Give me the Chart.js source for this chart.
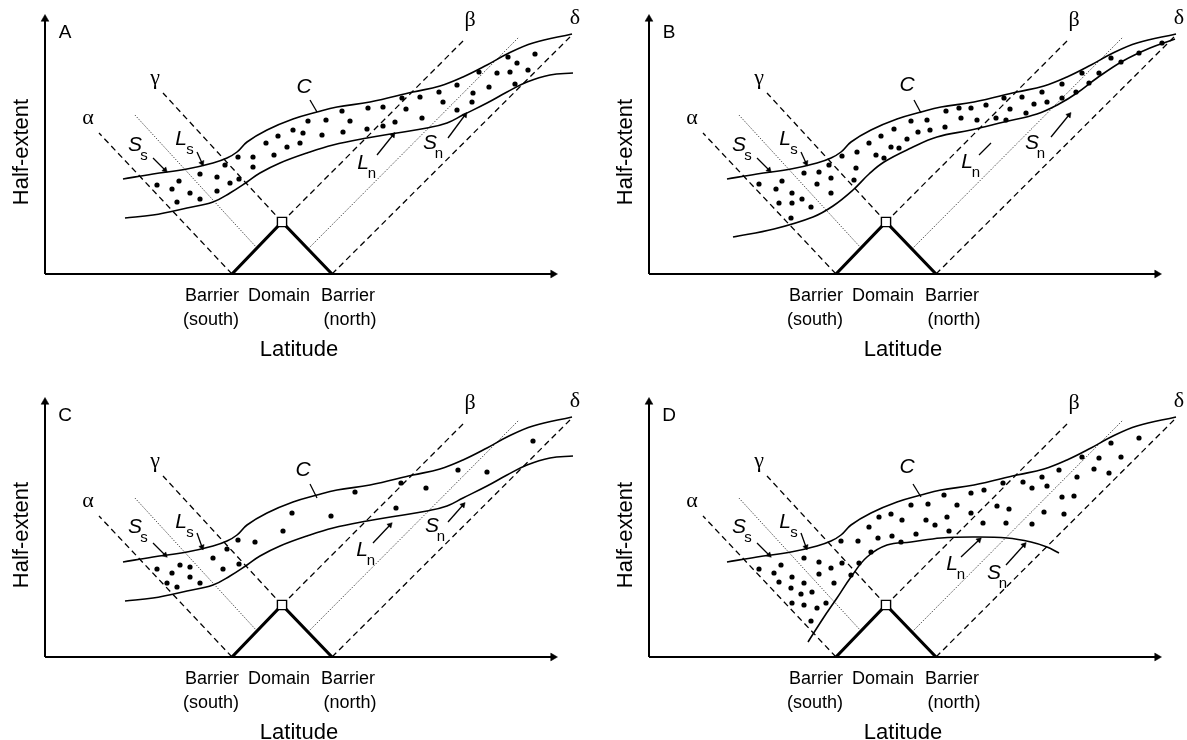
<!DOCTYPE html>
<html lang="en">
<head>
<meta charset="UTF-8">
<title>Range limit schematic</title>
<script src="https://cdn.jsdelivr.net/npm/chart.js"></script>
<style>
  body { margin: 0; background: #fff; width: 1187px; height: 740px; overflow: hidden; position: relative; }
  .panel { position: absolute; width: 590px; height: 370px; }
  canvas { display: block; }
</style>
</head>
<body>
<div class="panel" style="left:0;top:0"><canvas id="cA" width="590" height="370"></canvas></div>
<div class="panel" style="left:604px;top:0"><canvas id="cB" width="590" height="370"></canvas></div>
<div class="panel" style="left:0;top:383px"><canvas id="cC" width="590" height="370"></canvas></div>
<div class="panel" style="left:604px;top:383px"><canvas id="cD" width="590" height="370"></canvas></div>

<script>
// panel units: x = latitude, y = half-extent, origin at the axes corner
const upperEdge = [[78,95],[108,100],[142,105],[168,111],[182,116],[192,122],[202,132],[222,144],[248,155],[272,162],[292,167],[325,172],[368,182],[395,188],[418,197],[442,209],[462,220],[488,231],[527,240]];
const lowerEdgeAC = [[80,56],[108,59],[142,66],[168,72],[185,81],[202,92],[215,101],[235,111],[262,121],[288,129],[322,136],[352,141],[382,146],[402,151],[418,159],[442,171],[462,182],[482,192],[505,199],[528,201]];
const lowerEdgeB = [[84,37],[125,45],[164,57],[184,68],[204,84],[220,100],[235,112],[262,126],[288,137],[322,144],[355,152],[388,160],[410,170],[428,181],[448,196],[474,213],[501,226],[526,235]];
const lowerEdgeD = [[159,15],[175,40],[188,59],[202,80],[218,100],[238,112],[262,115],[292,119],[325,120],[358,119],[382,115],[398,110],[410,104]];

const domainV = [[187,0],[237,52],[287,0]];
const apex = [237,52];
const alphaLine = [[187,0],[54,141]];
const gammaLine = [[237,52],[118,181]];
const betaLine = [[237,52],[420,235]];
const deltaLine = [[287,0],[525,237]];
const southDotted = [[212,26],[89,160]];
const northDotted = [[263,25],[474,237]];

const dotsA = [[112,89],[127,85],[134,93],[145,81],[132,72],[155,75],[155,100],[172,97],[172,83],[180,109],[185,91],[193,117],[194,95],[208,117],[208,107],[221,131],[229,119],[233,138],[242,127],[248,144],[258,141],[255,131],[263,153],[277,139],[281,154],[297,163],[298,142],[305,153],[322,145],[323,166],[338,167],[338,148],[350,152],[357,176],[361,165],[375,177],[377,156],[394,182],[398,172],[412,189],[412,164],[427,172],[428,181],[434,202],[444,187],[452,201],[463,217],[465,202],[470,190],[472,211],[483,204],[490,220]];
const dotsB = [[110,90],[133,93],[127,85],[143,81],[130,71],[143,71],[153,75],[162,67],[142,56],[155,101],[170,102],[168,90],[182,96],[180,109],[182,81],[193,118],[205,94],[207,106],[208,122],[220,131],[227,119],[232,138],[235,116],[242,127],[245,145],[250,126],[258,135],[262,153],[269,142],[278,154],[281,144],[297,163],[296,147],[310,166],[312,156],[322,166],[328,154],[337,169],[347,156],[355,176],[357,154],[361,165],[373,177],[377,161],[385,170],[393,182],[398,172],[413,190],[413,176],[427,182],[433,201],[440,191],[450,201],[462,216],[472,212],[490,221],[513,231]];
const dotsC = [[112,88],[135,92],[127,84],[145,90],[145,80],[122,74],[132,70],[155,74],[168,99],[178,88],[182,108],[193,117],[194,93],[210,115],[238,126],[247,144],[286,141],[310,165],[351,149],[356,174],[381,169],[413,187],[442,185],[488,216]];
const dotsD = [[462,214],[490,219],[433,200],[450,199],[472,200],[410,187],[428,180],[445,188],[460,184],[393,180],[374,175],[354,174],[335,167],[322,164],[398,171],[383,169],[425,161],[413,160],[295,162],[279,153],[262,152],[308,152],[348,151],[360,148],[395,145],[415,143],[242,143],[253,137],[277,137],[298,140],[322,144],[230,140],[220,130],[286,132],[300,126],[334,134],[357,134],[383,133],[192,116],[209,116],[229,119],[243,121],[252,115],[267,123],[210,94],[222,105],[193,94],[170,95],[155,99],[182,89],[202,82],[170,83],[185,74],[110,88],[132,92],[125,84],[143,80],[130,75],[142,69],[155,74],[163,65],[152,63],[143,54],[155,52],[168,49],[177,54],[162,36]];

const panelLetters = ['A', 'B', 'C', 'D'];
const greekLabels = ['\u03B1', '\u03B3', '\u03B2', '\u03B4'];
const axisTitles = ['Latitude', 'Half-extent'];
const barrierLabels = ['Barrier', 'Domain', 'Barrier', '(south)', '(north)'];

// annotation placement per panel
const notes = {
  A: { C: [259,187], Ss: [90,129], Ls: [136,135], Ln: [318,111], Sn: [385,131],
       arrows: [[108,116,120,104,1],[152,122,157,111,1],[332,119,348,139,1],[403,136,420,159,1],[265,174,272,162,0]] },
  B: { C: [258,189], Ss: [90,129], Ls: [136,135], Ln: [318,112], Sn: [383,131],
       arrows: [[108,116,120,104,1],[152,122,157,111,1],[330,119,342,131,0],[402,137,420,159,1],[265,174,272,161,0]] },
  C: { C: [258,187], Ss: [90,130], Ls: [136,135], Ln: [317,107], Sn: [387,131],
       arrows: [[108,114,120,102,1],[152,124,157,110,1],[328,114,345,132,1],[403,135,418,152,1],[265,173,272,159,0]] },
  D: { C: [258,190], Ss: [90,130], Ls: [136,135], Ln: [303,93], Sn: [345,84],
       arrows: [[108,114,120,102,1],[152,124,157,110,1],[312,100,330,117,1],[357,92,375,112,1],[264,173,272,160,0]] }
};

const SANS = '"Liberation Sans", Arial, Helvetica, sans-serif';
const SERIF = '"Liberation Serif", "Times New Roman", serif';

function pts(a) { return a.map(p => ({ x: p[0], y: p[1] })); }

function lineSet(data, width, dash, tension) {
  return {
    data: pts(data), showLine: true, borderColor: '#000', borderWidth: width,
    borderDash: dash || [], pointRadius: 0, tension: tension || 0
  };
}

function arrowSet(a) {
  const ang = Math.atan2(a[2] - a[0], a[3] - a[1]) * 180 / Math.PI;
  return {
    data: pts([[a[0], a[1]], [a[2], a[3]]]), showLine: true,
    borderColor: '#000', borderWidth: 1.3,
    pointStyle: 'triangle', pointRadius: [0, a[4] ? 3.2 : 0], pointRotation: [0, ang],
    pointBackgroundColor: '#000', pointBorderColor: '#000', pointBorderWidth: 0.5
  };
}

function labelPlugin(items) {
  return {
    id: 'sketchLabels',
    afterDatasetsDraw(chart) {
      const { ctx, scales: { x, y } } = chart;
      ctx.save();
      ctx.fillStyle = '#000';
      ctx.textAlign = 'center';
      ctx.textBaseline = 'middle';
      items.forEach(it => {
        ctx.save();
        ctx.font = it.font;
        ctx.translate(x.getPixelForValue(it.x), y.getPixelForValue(it.y));
        if (it.rot) ctx.rotate(it.rot * Math.PI / 180);
        ctx.fillText(it.t, 0, 0);
        ctx.restore();
      });
      ctx.restore();
    }
  };
}

function buildItems(letter, n) {
  const ital = 'italic 21px ' + SANS, sub = '15px ' + SANS, small = '18px ' + SANS;
  const items = [
    { t: letter, x: 20, y: 241, font: '19px ' + SANS },
    { t: axisTitles[1], x: -23, y: 122, font: '22px ' + SANS, rot: -90 },
    { t: axisTitles[0], x: 254, y: -76, font: '22px ' + SANS },
    { t: barrierLabels[0], x: 167, y: -22, font: small },
    { t: barrierLabels[1], x: 234, y: -22, font: small },
    { t: barrierLabels[2], x: 303, y: -22, font: small },
    { t: barrierLabels[3], x: 166, y: -46, font: small },
    { t: barrierLabels[4], x: 305, y: -46, font: small },
    { t: greekLabels[0], x: 43, y: 156, font: '22px ' + SERIF },
    { t: greekLabels[1], x: 110, y: 196, font: '22px ' + SERIF },
    { t: greekLabels[2], x: 425, y: 254, font: '22px ' + SERIF },
    { t: greekLabels[3], x: 530, y: 256, font: '22px ' + SERIF },
    { t: 'C', x: n.C[0], y: n.C[1], font: ital }
  ];
  [['S', 's', n.Ss], ['L', 's', n.Ls], ['L', 'n', n.Ln], ['S', 'n', n.Sn]].forEach(([m, s, p]) => {
    items.push({ t: m, x: p[0], y: p[1], font: ital });
    items.push({ t: s, x: p[0] + 9, y: p[1] - 11, font: sub });
  });
  return items;
}

const panelData = {
  A: { dots: dotsA, lower: lowerEdgeAC },
  B: { dots: dotsB, lower: lowerEdgeB },
  C: { dots: dotsC, lower: lowerEdgeAC },
  D: { dots: dotsD, lower: lowerEdgeD }
};

panelLetters.forEach(letter => {
  const pd = panelData[letter], n = notes[letter];
  const datasets = [
    { data: pts([apex]), pointStyle: 'rect', pointRadius: 6.5, pointBackgroundColor: '#fff',
      pointBorderColor: '#000', pointBorderWidth: 1.4 },
    { data: pts(pd.dots), pointRadius: 2.6, pointBackgroundColor: '#000', pointBorderWidth: 0 },
    lineSet(upperEdge, 1.6, null, 0.4),
    lineSet(pd.lower, 1.6, null, 0.4),
    lineSet(domainV, 3.2),
    lineSet(alphaLine, 1.3, [6, 4]),
    lineSet(gammaLine, 1.3, [6, 4]),
    lineSet(betaLine, 1.3, [6, 4]),
    lineSet(deltaLine, 1.3, [6, 4]),
    lineSet(southDotted, 0.9, [1, 1.6]),
    lineSet(northDotted, 0.9, [1, 1.6]),
    lineSet([[0, 0], [508, 0]], 2),
    lineSet([[0, 0], [0, 255]], 2),
    { data: pts([[508, 0]]), pointStyle: 'triangle', pointRadius: 4.5, pointRotation: 90,
      pointBackgroundColor: '#000', pointBorderColor: '#000', pointBorderWidth: 0.5 },
    { data: pts([[0, 255]]), pointStyle: 'triangle', pointRadius: 4.5, pointRotation: 0,
      pointBackgroundColor: '#000', pointBorderColor: '#000', pointBorderWidth: 0.5 }
  ];
  n.arrows.forEach(a => datasets.push(arrowSet(a)));

  new Chart(document.getElementById('c' + letter), {
    type: 'scatter',
    data: { datasets },
    options: {
      responsive: false,
      animation: false,
      events: [],
      layout: { padding: 0, autoPadding: false },
      plugins: { legend: { display: false }, tooltip: { enabled: false } },
      scales: {
        x: { type: 'linear', min: -45, max: 545, display: false },
        y: { type: 'linear', min: -96, max: 274, display: false }
      }
    },
    plugins: [labelPlugin(buildItems(letter, n))]
  });
});
</script>
</body>
</html>
